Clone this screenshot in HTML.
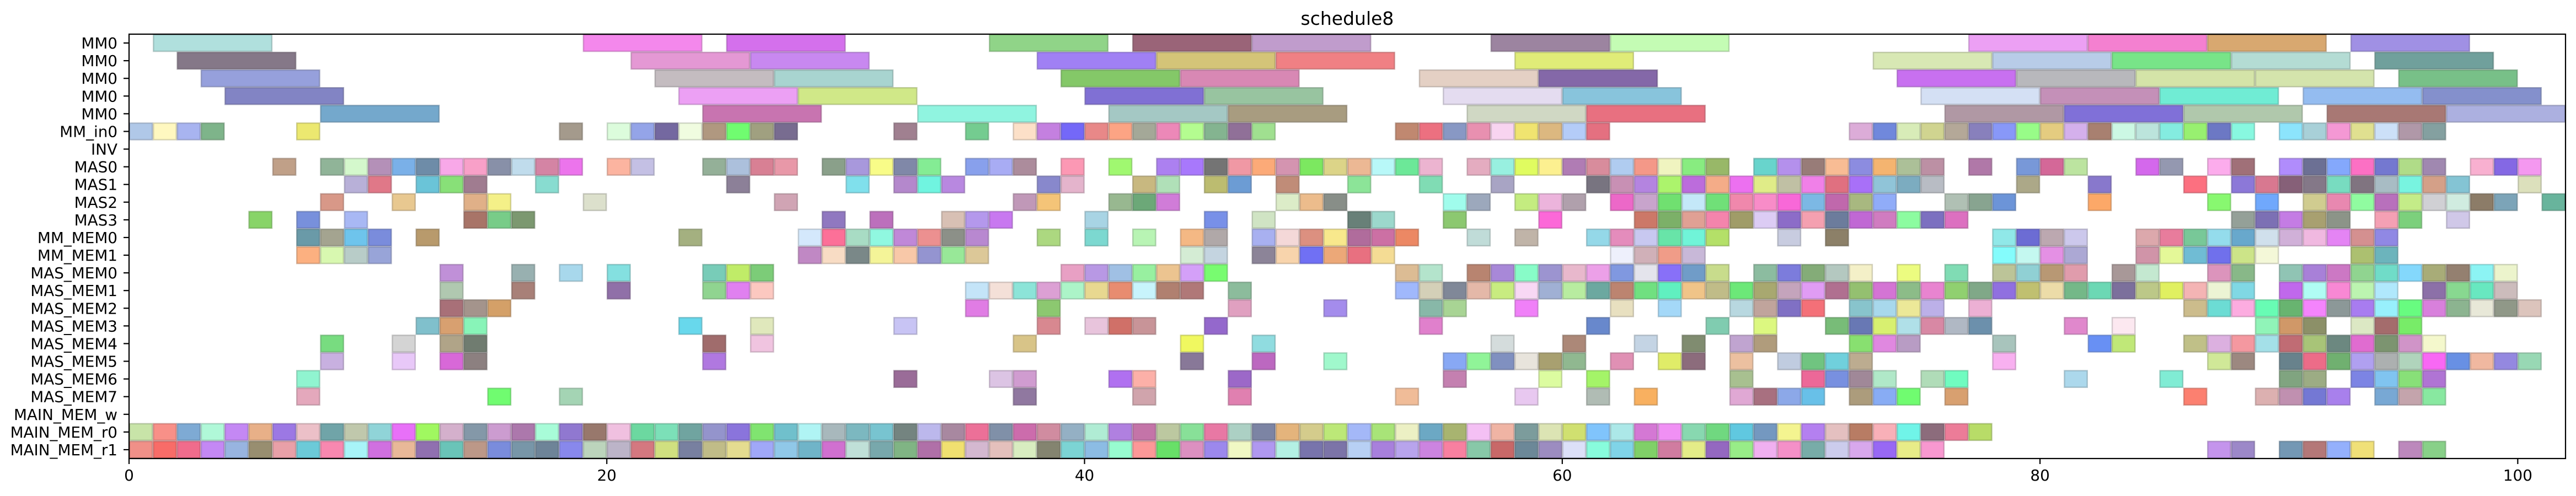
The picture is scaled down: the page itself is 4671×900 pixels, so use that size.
<!DOCTYPE html>
<html>
<head>
<meta charset="utf-8">
<style>
html,body{margin:0;padding:0;background:#fff;}
svg{display:block;}
text{font-family:"DejaVu Sans","Liberation Sans",sans-serif;fill:#000;}
</style>
</head>
<body>
<svg id="chart" width="4671" height="900" viewBox="0 0 4671 900" xmlns="http://www.w3.org/2000/svg">
  <rect x="0" y="0" width="4671" height="900" fill="#fff"/>
  <text x="2443" y="45" font-size="33" text-anchor="middle">schedule8</text>
  <g id="bars"></g>
  <g id="yaxis"></g>
  <g id="xaxis"></g>
  <rect x="234" y="62" width="4418" height="770" fill="none" stroke="#000" stroke-width="2.2"/>
</svg>
<script>
const rowLabels = ["MM0","MM0","MM0","MM0","MM0","MM_in0","INV","MAS0","MAS1","MAS2","MAS3","MM_MEM0","MM_MEM1","MAS_MEM0","MAS_MEM1","MAS_MEM2","MAS_MEM3","MAS_MEM4","MAS_MEM5","MAS_MEM6","MAS_MEM7","MAIN_MEM_w","MAIN_MEM_r0","MAIN_MEM_r1"];
const rowDurations = [5,5,5,5,5,1,1,1,1,1,1,1,1,1,1,1,1,1,1,1,1,1,1,1];
const xTicks = [0,20,40,60,80,100];
const xMax = 102;
// each row: [start, colour]
const rowTasks = [
[[1,'b0e0dd'],[19,'f488ec'],[25,'d470ec'],[36,'90d488'],[42,'9a6478'],[47,'c09ccc'],[57,'9c84a0'],[62,'c4fcb4'],[77,'eca0f4'],[82,'f480d0'],[87,'d8a870'],[93,'a090e4']],
[[2,'857888'],[21,'e498d4'],[26,'c888f0'],[38,'a080f4'],[43,'d4c478'],[48,'f08084'],[58,'e0ec78'],[73,'d8e8b4'],[78,'b8cce8'],[83,'78e488'],[88,'b4dcd4'],[94,'70a09c']],
[[3,'96a0dc'],[22,'c4bcc0'],[27,'a8d4d0'],[39,'84c868'],[44,'d888b4'],[54,'e4d0c4'],[59,'8468a8'],[74,'c870f0'],[79,'b8b8bc'],[84,'d4e4a8'],[89,'d4e4ac'],[95,'78c088']],
[[4,'8284c4'],[23,'eca0f4'],[28,'d0e888'],[40,'8070d4'],[45,'98c4a0'],[55,'e4dcf0'],[60,'88c4dc'],[75,'d4e0f4'],[80,'c490b8'],[85,'70ecd4'],[91,'94bcf0'],[96,'8490cc']],
[[8,'74a8cc'],[24,'c874b0'],[33,'90f4e0'],[41,'a4c8c4'],[46,'a89c80'],[56,'d0d8c4'],[61,'e87080'],[76,'b098a4'],[81,'8070d8'],[86,'b0c8ac'],[92,'a87874'],[97,'acb0e0']],
[[0,'b0c8e8'],[1,'fff8c0'],[2,'a8b4f0'],[3,'7eb48a'],[7,'ece870'],[18,'a49a8c'],[20,'dcfcdc'],[21,'94a4e8'],[22,'7468a0'],[23,'f0fce0'],[24,'b09880'],[25,'70fc70'],[26,'a0a080'],[27,'786c90'],[32,'a08090'],[35,'74cc90'],[37,'fce0c8'],[38,'c480e0'],[39,'7468f8'],[40,'e88888'],[41,'fca484'],[42,'a4a898'],[43,'ec88b8'],[44,'b4fc90'],[45,'84b490'],[46,'907098'],[47,'a0e090'],[53,'c08870'],[54,'ec7080'],[55,'8898c4'],[56,'e890b0'],[57,'f8d4f0'],[58,'f0e470'],[59,'dcb880'],[60,'b4ccf8'],[61,'e47080'],[72,'dcacd8'],[73,'7088dc'],[74,'d8ecb8'],[75,'d0d490'],[76,'b4a898'],[77,'8880bc'],[78,'8898f8'],[79,'98fc88'],[80,'e4cc80'],[81,'d4b0ec'],[82,'a88070'],[83,'ccf8e4'],[84,'bce4dc'],[85,'84ece0'],[86,'98f070'],[87,'6c78c4'],[88,'88f8e0'],[90,'8ce4fc'],[91,'a8d0d8'],[92,'f498d4'],[93,'e0e090'],[94,'cce0f8'],[95,'b098a8'],[96,'84a0a0']],
[],
[[6,'c0a088'],[8,'90b498'],[9,'d4f8cc'],[10,'b490b8'],[11,'7ab0e8'],[12,'6e8ca8'],[13,'f8a8e8'],[14,'f8a0c8'],[15,'8890a8'],[16,'c0dcec'],[17,'d484a4'],[18,'ec74ec'],[20,'fcb4a0'],[21,'c4c0e4'],[24,'94b098'],[25,'acc0dc'],[26,'d88094'],[27,'e898a8'],[29,'8aa08a'],[30,'a898dc'],[31,'f8fc88'],[32,'8088a8'],[33,'84ec94'],[35,'88a0ec'],[36,'a8acf4'],[37,'ac8c9c'],[39,'fc98b4'],[41,'a0f870'],[43,'ac80f0'],[44,'a878fc'],[45,'747474'],[46,'f098a4'],[47,'fcaa78'],[48,'d494b0'],[49,'7ce860'],[50,'dcd488'],[51,'ecb894'],[52,'b8f8f8'],[53,'6ce898'],[54,'ecb4d0'],[56,'e4acc0'],[57,'98f0e0'],[58,'e0fc60'],[59,'fcf090'],[60,'b07cb4'],[61,'d88c9c'],[62,'b0ccf0'],[63,'f49888'],[64,'f0f4c0'],[65,'88ec80'],[66,'98b868'],[68,'68d4cc'],[69,'b490ec'],[70,'987c78'],[71,'f8bc94'],[72,'8c8ce0'],[73,'f4b470'],[74,'acc098'],[75,'bc90a4'],[77,'b078a8'],[79,'7898d8'],[80,'d46898'],[81,'bce4a0'],[84,'d468ec'],[85,'9498b0'],[87,'fcacec'],[88,'a07078'],[90,'b08cfc'],[91,'6c7094'],[92,'84a8fc'],[93,'fc70c4'],[94,'7478d0'],[95,'b0dc88'],[96,'a088b0'],[98,'f8b0d0'],[99,'8468e4'],[100,'f498f0']],
[[9,'b8b0d8'],[10,'e07888'],[12,'6ac4d8'],[13,'88e078'],[14,'a07c90'],[17,'88dcd0'],[25,'8c8098'],[30,'80e0ec'],[32,'b488cc'],[33,'70f4e0'],[34,'b888e0'],[38,'8888cc'],[39,'e4b4cc'],[42,'c8b880'],[43,'b0e0b8'],[45,'bcbc70'],[46,'6c9cd4'],[48,'c08c78'],[51,'8ce498'],[54,'80dcb4'],[57,'a8a4c4'],[61,'787480'],[62,'c890b4'],[63,'b484e0'],[64,'acf46c'],[65,'bc6cdc'],[66,'f4ac88'],[67,'ec70f0'],[68,'e0ec88'],[69,'c0c0a4'],[70,'f080e8'],[71,'e07080'],[72,'a870f8'],[73,'90c4d8'],[74,'7cacc0'],[75,'b8bcc4'],[79,'aca888'],[82,'8878cc'],[86,'fc7080'],[88,'8c78d8'],[89,'d87890'],[90,'866078'],[91,'847888'],[92,'78dcc0'],[93,'807480'],[94,'a8bcc4'],[95,'78f4e0'],[96,'d4a088'],[97,'84c4d4'],[100,'dce0bc']],
[[8,'d89888'],[11,'e8c890'],[14,'e0b088'],[15,'f4f088'],[19,'dce0cc'],[27,'d0a4b4'],[37,'c098b8'],[38,'f4c478'],[41,'98b890'],[42,'6ca878'],[43,'d07cd8'],[48,'dcecc8'],[49,'ecbc8c'],[50,'888e88'],[55,'a0fcec'],[56,'9ca8bc'],[58,'c4ec80'],[59,'ecb4dc'],[60,'b0a0ac'],[62,'ec68c8'],[63,'c8a4cc'],[64,'70e070'],[65,'c4e8f8'],[66,'70e078'],[67,'f088ac'],[68,'f88cc8'],[69,'f868d8'],[70,'7cb8e4'],[71,'c068ac'],[72,'a8b880'],[73,'90acf8'],[76,'b0c0b4'],[77,'88a490'],[78,'6c94d8'],[82,'fca868'],[87,'88f870'],[89,'70a8fc'],[91,'d0cc90'],[92,'e888b0'],[93,'90fca0'],[94,'b870bc'],[95,'c4ec88'],[96,'d0d0d4'],[97,'d0ece0'],[98,'8c7c68'],[99,'7ca4b8'],[101,'68b49c']],
[[5,'88d468'],[7,'7890dc'],[9,'a8b8f4'],[14,'a87468'],[15,'78cc88'],[16,'7c9870'],[29,'9078c0'],[31,'bc70bc'],[34,'d8c0b4'],[35,'b498ec'],[36,'c878f0'],[40,'a8d4e4'],[45,'7890e8'],[47,'d0e4c4'],[51,'688078'],[52,'9cd8cc'],[55,'8cc870'],[59,'fc68d8'],[63,'cc7868'],[64,'7cb068'],[65,'e0a094'],[66,'f484ac'],[67,'a09c68'],[68,'dcccf4'],[69,'8c6cc8'],[70,'f4a0b0'],[71,'6c7c9c'],[72,'c068d4'],[73,'d07cc0'],[74,'8cfca0'],[75,'7c70c0'],[76,'dc70c0'],[88,'94a098'],[89,'7c70b4'],[90,'c47ce4'],[91,'a8a070'],[92,'8c9488'],[94,'f4a0b4'],[95,'7cd07c'],[97,'d0c8e8']],
[[7,'6a9aa8'],[8,'a4a490'],[9,'6ec4ec'],[10,'7a8cdc'],[12,'b89a6c'],[23,'a4b080'],[28,'d4e8fc'],[29,'fc7098'],[30,'a8dcc4'],[31,'90f8e0'],[32,'c088d8'],[33,'ec9090'],[34,'8c9088'],[35,'b888d0'],[38,'acd880'],[40,'7cd8d0'],[42,'b8f4b4'],[44,'f4b884'],[45,'b0a8a8'],[47,'a8b0f0'],[48,'f4d8d8'],[49,'dc9080'],[50,'f8e88c'],[51,'b06c9c'],[52,'cc70a4'],[53,'ec8864'],[56,'c0dcd8'],[58,'c0b4a8'],[61,'94d8e8'],[62,'e48cbc'],[63,'c8c8f0'],[64,'68e4a8'],[65,'70f4d8'],[66,'b4e068'],[69,'c8cce0'],[71,'8c8068'],[78,'90e8e8'],[79,'6c6cd4'],[80,'bca8b0'],[81,'ccc8ec'],[84,'dca8ac'],[85,'e87c9c'],[86,'78c898'],[87,'94dcec'],[88,'68a8cc'],[89,'d0e0ec'],[90,'d0b0d8'],[91,'f0b8e0'],[92,'e484f4'],[93,'d49090'],[94,'9088e4']],
[[7,'fcb080'],[8,'d8f8b0'],[9,'b8ccc8'],[10,'98a4d8'],[28,'c088c4'],[29,'f8dcc4'],[30,'7a8888'],[31,'f4f498'],[32,'f8c8a8'],[33,'9494d0'],[34,'98e898'],[35,'dcc898'],[44,'d4ecd4'],[45,'c4d4e0'],[47,'8c8498'],[48,'f8d4ac'],[49,'7070f4'],[50,'eca878'],[51,'e87080'],[52,'f4dc94'],[62,'eef0fc'],[63,'d0b0b8'],[64,'f09c88'],[65,'c8b8d8'],[78,'84fcfc'],[79,'c4f8f0'],[80,'e490e4'],[81,'aca8d4'],[84,'d094a8'],[85,'e4f898'],[86,'70bcd4'],[87,'7070ec'],[88,'cce488'],[89,'f4f8d8'],[93,'acc070'],[94,'6cb4bc']],
[[13,'c090d8'],[16,'98b0b0'],[18,'a8d8ec'],[20,'84e0e0'],[24,'78ccb8'],[25,'c0ec68'],[26,'7ccc78'],[39,'e8a0c4'],[40,'b898e4'],[41,'a0c0e4'],[42,'98f0a0'],[43,'ecc490'],[44,'d4a0f8'],[45,'78fc70'],[53,'dcbc94'],[54,'b4e4cc'],[56,'b88470'],[57,'a888d8'],[58,'88fcc8'],[59,'9c94d0'],[60,'e8b8cc'],[61,'eca0e8'],[62,'8098e0'],[63,'e4e4ec'],[64,'8870f8'],[65,'709cc8'],[66,'c8dc8c'],[68,'8cbca0'],[69,'7c7cdc'],[70,'84ac78'],[71,'b4c8c0'],[72,'f4f0c8'],[74,'ecfc80'],[76,'80dcb4'],[78,'bcc498'],[79,'90d0d4'],[80,'b89874'],[81,'e09cac'],[83,'a89898'],[84,'c4e8d0'],[87,'dc94bc'],[88,'88b888'],[90,'90c4b4'],[91,'a880d8'],[92,'cc78c4'],[93,'90d490'],[94,'70dcc8'],[95,'84d8fc'],[96,'a8ac78'],[97,'948070'],[98,'8cf4f4'],[99,'ecf4cc']],
[[13,'b0c8b0'],[16,'a88078'],[20,'9070a8'],[24,'90d490'],[25,'e080f0'],[26,'fcc8c0'],[35,'c4e4f8'],[36,'f4e0d8'],[37,'8ce4d8'],[38,'dca0d4'],[39,'acf4c8'],[40,'e8d890'],[41,'e88c70'],[42,'c8f4fc'],[43,'b08070'],[44,'b07878'],[46,'8cbc9c'],[53,'a0b8fc'],[54,'d4d0b8'],[55,'808898'],[56,'e4b8a8'],[57,'c8ec80'],[58,'f8d8f4'],[59,'a0b0d4'],[60,'b8eca0'],[61,'6ca8a0'],[62,'bc8470'],[63,'70e080'],[64,'60f0c0'],[65,'f0c488'],[66,'c0bc88'],[67,'6ce878'],[68,'a8a870'],[69,'c4a4bc'],[70,'e09cf4'],[71,'b07090'],[72,'94c070'],[73,'d474d4'],[74,'8cbc88'],[75,'e884d0'],[76,'90d070'],[77,'80a888'],[78,'9070e0'],[79,'c0c070'],[80,'ecdca8'],[81,'74b888'],[82,'6cd8b4'],[83,'7c709c'],[84,'bcc888'],[85,'e0f060'],[86,'f4b4b4'],[87,'ecf4d4'],[88,'80d8e4'],[90,'c068ec'],[91,'b0fcf4'],[92,'f888d4'],[93,'bcf4b0'],[94,'b0e8fc'],[96,'8c70a8'],[97,'88d890'],[98,'68e8c0'],[99,'ccbcbc']],
[[13,'a87078'],[14,'a4948c'],[15,'d4a068'],[35,'e07ce4'],[38,'8cc870'],[46,'e0a0c0'],[50,'a48cec'],[54,'88b8a8'],[55,'a8d494'],[58,'f080f8'],[62,'e8e0c0'],[64,'a4d8f8'],[67,'b8d8e0'],[68,'c0a49c'],[69,'8070c4'],[70,'f47078'],[72,'88c4cc'],[73,'a8d8ec'],[74,'ece898'],[75,'bcb0e8'],[77,'ecb0d4'],[86,'ccbc8c'],[87,'6cdcd4'],[88,'fcace0'],[89,'68fcb4'],[90,'68b470'],[91,'f484fc'],[92,'8c9898'],[93,'a87cf0'],[94,'98f0fc'],[95,'68fc80'],[96,'d880dc'],[97,'8cb490'],[98,'e8e8d8'],[99,'909888'],[100,'dcc4bc']],
[[12,'80c0cc'],[13,'d8a070'],[14,'88f4b8'],[23,'68d8ec'],[26,'e0e8bc'],[32,'c8c4f4'],[38,'d88890'],[40,'e8c4dc'],[41,'d07068'],[42,'c89498'],[45,'9468cc'],[54,'e080cc'],[61,'6888cc'],[66,'80ccb0'],[68,'dcf880'],[71,'78bc78'],[72,'6878b4'],[73,'d8f070'],[74,'b0e0e8'],[75,'d888a4'],[76,'b0b8c4'],[77,'6c90ac'],[81,'e088cc'],[83,'fce8f0'],[89,'90f4b8'],[90,'d09868'],[91,'8c9068'],[93,'dce8c4'],[94,'a46c6c'],[95,'78ec68']],
[[8,'78dc80'],[11,'d4d4d4'],[13,'b0a488'],[14,'707c70'],[24,'a06c6c'],[26,'f0c4e0'],[37,'d8c488'],[44,'f0f860'],[47,'90dce0'],[57,'d4dcdc'],[60,'ac8878'],[63,'c4d4e4'],[65,'808c70'],[67,'c0a4d0'],[68,'b09c7c'],[72,'88e070'],[73,'e088e0'],[74,'b89cc4'],[78,'a8c4bc'],[82,'6890f4'],[83,'c0e878'],[86,'c0c088'],[87,'dcb0e0'],[88,'f498a0'],[89,'a4e0e8'],[90,'c06c74'],[91,'a8c478'],[92,'6c8880'],[93,'e06cd0'],[94,'7c9470'],[95,'d094c8'],[96,'f4f8cc']],
[[8,'c8b0e0'],[11,'e8c8f8'],[13,'d868d8'],[14,'8c8080'],[24,'b078e0'],[44,'887898'],[47,'bc68c0'],[50,'a0f8cc'],[55,'88a8f4'],[56,'90f498'],[57,'8090c0'],[58,'e8e4dc'],[59,'a8a070'],[60,'90b890'],[62,'e090b4'],[64,'e0ec68'],[65,'8c6c7c'],[67,'ecc0a0'],[69,'c0cce0'],[70,'70c480'],[71,'70d0dc'],[72,'bcac90'],[78,'f8b0f0'],[87,'d0e898'],[88,'9c8880'],[90,'68828c'],[91,'ec6c88'],[92,'70b070'],[93,'b0a0f0'],[94,'acb0b0'],[95,'b0d4bc'],[96,'f868f4'],[97,'6890e4'],[98,'f0b8a0'],[99,'9488e0'],[100,'98d8b4']],
[[7,'90f4d0'],[32,'9a6c98'],[36,'dcc4e4'],[37,'d09cd0'],[41,'b070f0'],[42,'fcb0a8'],[46,'9c68c8'],[55,'c480b0'],[59,'dcfca0'],[61,'a4f468'],[67,'a8c090'],[70,'ec6898'],[71,'7890e0'],[72,'a08898'],[73,'b0e8c8'],[75,'b0dcb8'],[76,'70fcc0'],[81,'acd8ec'],[85,'80ecd4'],[90,'80a480'],[91,'9cac84'],[93,'7c84e4'],[94,'80c4f0'],[95,'88e078'],[96,'b074d4']],
[[7,'e4a8bc'],[15,'70fc70'],[18,'a4d4b4'],[37,'9078a0'],[42,'d0a4ac'],[46,'e080b0'],[53,'f0bc98'],[58,'e8c8f0'],[61,'b0bcb4'],[63,'f8b060'],[67,'e0a8d4'],[68,'a87080'],[69,'8ca8e8'],[70,'68c0e8'],[72,'ac9c7c'],[73,'88acf4'],[74,'70fc70'],[76,'d8a070'],[86,'fc8070'],[89,'dcb0b0'],[90,'c090b0'],[91,'7478d4'],[92,'a880ec'],[94,'78a8d4'],[95,'c4a4ac'],[96,'88e8a0']],
[],
[[0,'c8e4a8'],[1,'f89088'],[2,'7eaad4'],[3,'b0f8d8'],[4,'c488f4'],[5,'e8b088'],[6,'9c78e4'],[7,'ecc0c8'],[8,'70a4a8'],[9,'c0c8ac'],[10,'90d4d8'],[11,'e870f8'],[12,'a0f860'],[13,'d4b0cc'],[14,'8498a8'],[15,'cc9cd0'],[16,'ac78ac'],[17,'a8fcd8'],[18,'9078d0'],[19,'98786c'],[20,'f0c0e0'],[21,'6cd8a0'],[22,'7ce0b8'],[23,'70a4a0'],[24,'9494cc'],[25,'8a74dc'],[26,'80e470'],[27,'70c0cc'],[28,'b0f4f4'],[29,'a8b8bc'],[30,'7cb8c0'],[31,'78c4d0'],[32,'748480'],[33,'bcb8ec'],[34,'a888a0'],[35,'ec7098'],[36,'8090a8'],[37,'cc6cac'],[38,'d08ca0'],[39,'94b0c4'],[40,'b0ecd4'],[41,'b080e0'],[42,'c474a8'],[43,'bcc8a0'],[44,'88e098'],[45,'e878a4'],[46,'acd0c4'],[47,'7c84a4'],[48,'e4b47c'],[49,'d4cc8c'],[50,'bce878'],[51,'a4b8f8'],[52,'a8e478'],[53,'ecf0c4'],[54,'6ca8c4'],[55,'a8b470'],[56,'f4c0f4'],[57,'f0b4a4'],[58,'7c9c9c'],[59,'dce4b4'],[60,'d0e070'],[61,'80c4fc'],[62,'ace8e8'],[63,'d478d4'],[64,'f090f4'],[65,'88d8b0'],[66,'70d880'],[67,'60c8e0'],[68,'7498c0'],[69,'f4f490'],[70,'b480f0'],[71,'e4c0c0'],[72,'b87c64'],[73,'f8b0b8'],[74,'70f4e8'],[75,'8c6c7c'],[76,'ec7c98'],[77,'b8dc68']],
[[0,'f09088'],[1,'f86c68'],[2,'f06c8c'],[3,'c488f4'],[4,'98b4e0'],[5,'988e70'],[6,'e8a0a8'],[7,'6ccad8'],[8,'f888b0'],[9,'a8f4f8'],[10,'d070e0'],[11,'e8b898'],[12,'9070b0'],[13,'6ac4b8'],[14,'bc9888'],[15,'7a8cdc'],[16,'7896a8'],[17,'6e8498'],[18,'8888ec'],[19,'bcd4bc'],[20,'bcb4c8'],[21,'d47880'],[22,'d0e080'],[23,'7880a0'],[24,'c0bc88'],[25,'e4dc90'],[26,'a0a8f8'],[27,'90c8e8'],[28,'70b4c8'],[29,'d070d0'],[30,'c0e0d8'],[31,'78a8ac'],[32,'80b484'],[33,'b070a8'],[34,'f0e070'],[35,'d4b8d0'],[36,'e4c0bc'],[37,'d8ecc0'],[38,'848470'],[39,'7cd4d4'],[40,'8cbce4'],[41,'98fcd0'],[42,'fc9898'],[43,'68e068'],[44,'dc90c0'],[45,'9c88ec'],[46,'f0f8c4'],[47,'b098f0'],[48,'b4f0e4'],[49,'7874ac'],[50,'7c74a8'],[51,'b8d0f4'],[52,'a880dc'],[53,'b8a4ec'],[54,'cc84e0'],[55,'f880a0'],[56,'88c8a8'],[57,'c86868'],[58,'6c8898'],[59,'9c8cc0'],[60,'dce0f8'],[61,'88fcdc'],[62,'80d4e8'],[63,'80d068'],[64,'d07ca0'],[65,'e4ec88'],[66,'9468c0'],[67,'98ec88'],[68,'f0b0f0'],[69,'f490c8'],[70,'78aca8'],[71,'ccccec'],[72,'d8a8ec'],[73,'9868f4'],[74,'e8ec88'],[75,'f898d0'],[87,'c494ec'],[88,'9c88c8'],[90,'7498b4'],[91,'b47878'],[92,'94b0fc'],[93,'f0e078'],[95,'bc88bc'],[96,'88d088']]
];

const NS = "http://www.w3.org/2000/svg";
const plotL = 234, plotR = 4652, plotT = 62, plotB = 832;
const pxPerUnit = (plotR - plotL) / xMax;
const rowH = (plotB - plotT) / rowLabels.length;
function xScale(v){ return plotL + v * pxPerUnit; }
function yTop(i){ return plotT + i * rowH; }
function darker(hex){
  const n = parseInt(hex,16);
  const r = Math.round(((n>>16)&255)*0.72), g = Math.round(((n>>8)&255)*0.72), b = Math.round((n&255)*0.72);
  return "rgb("+r+","+g+","+b+")";
}

const bars = document.getElementById('bars');
rowTasks.forEach(function(tasks, ri){
  tasks.forEach(function(t){
    const el = document.createElementNS(NS,'rect');
    const x = xScale(t[0]);
    const w = xScale(t[0] + rowDurations[ri]) - x;
    el.setAttribute('x', x + 1);
    el.setAttribute('y', yTop(ri) + 1);
    el.setAttribute('width', w - 2);
    el.setAttribute('height', rowH - 2);
    el.setAttribute('fill', '#' + t[1]);
    el.setAttribute('stroke', darker(t[1]));
    el.setAttribute('stroke-opacity', '0.55');
    el.setAttribute('stroke-width', '2.5');
    
    
    bars.appendChild(el);
  });
});

const yaxis = document.getElementById('yaxis');
rowLabels.forEach(function(lbl, i){
  const cy = yTop(i) + rowH / 2;
  const tk = document.createElementNS(NS,'line');
  tk.setAttribute('x1', plotL - 10); tk.setAttribute('x2', plotL);
  tk.setAttribute('y1', cy); tk.setAttribute('y2', cy);
  tk.setAttribute('stroke', '#000'); tk.setAttribute('stroke-width', '2.2');
  
  
  yaxis.appendChild(tk);
  const tx = document.createElementNS(NS,'text');
  tx.setAttribute('x', 213); tx.setAttribute('y', cy + 10);
  tx.setAttribute('font-size', '27.8'); tx.setAttribute('text-anchor', 'end');
  tx.textContent = lbl;
  
  
  yaxis.appendChild(tx);
});

const xaxis = document.getElementById('xaxis');
xTicks.forEach(function(v){
  const x = xScale(v);
  const tk = document.createElementNS(NS,'line');
  tk.setAttribute('x1', x); tk.setAttribute('x2', x);
  tk.setAttribute('y1', plotB); tk.setAttribute('y2', plotB + 10);
  tk.setAttribute('stroke', '#000'); tk.setAttribute('stroke-width', '2.2');
  
  
  xaxis.appendChild(tk);
  const tx = document.createElementNS(NS,'text');
  tx.setAttribute('x', x); tx.setAttribute('y', plotB + 40);
  tx.setAttribute('font-size', '27.8'); tx.setAttribute('text-anchor', 'middle');
  tx.textContent = String(v);
  
  
  xaxis.appendChild(tx);
});
</script>
</body>
</html>
